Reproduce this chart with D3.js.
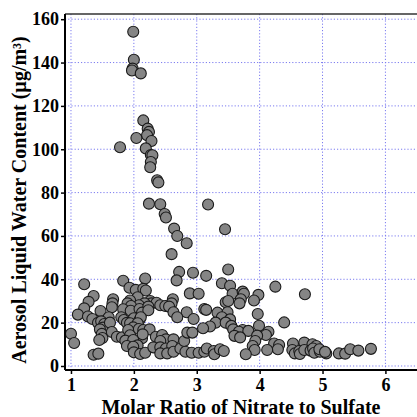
<!DOCTYPE html>
<html>
<head>
<meta charset="utf-8">
<script src="https://cdn.jsdelivr.net/npm/d3@7/dist/d3.min.js"></script>
<style>
  html, body { margin: 0; padding: 0; background: #fff; }
  svg { display: block; }
  text { font-family: "Liberation Serif", "Times New Roman", serif; font-weight: bold; fill: #000; }
</style>
</head>
<body>
<svg id="chart" width="417" height="417"></svg>
<script>
// Molar ratio of nitrate to sulfate (x) and aerosol liquid water content in µg/m³ (y)
const ratio = [
  1.99, 2.00, 1.98, 1.97, 2.11,
  2.15, 2.22, 2.24, 2.21, 2.04, 2.28,
  1.78, 2.19, 2.27, 2.295, 2.27, 2.26,
  2.37, 2.39, 2.24, 2.42, 3.18, 2.49, 2.51,
  2.64, 3.45, 2.69, 2.84, 2.60,
  3.50, 2.72, 2.94, 3.15, 2.68, 2.18, 1.83,
  1.21, 1.93, 2.03, 2.15, 2.19, 2.89, 3.03,
  1.36, 2.06, 1.28, 1.67, 1.66, 1.94, 1.90,
  2.26, 2.28, 2.36, 2.17, 2.08, 1.955, 2.62,
  2.60, 2.42, 2.50, 1.21, 1.65, 1.47, 1.83,
  1.95, 2.09, 2.23, 2.13, 2.23, 2.56, 2.63,
  2.84, 1.11, 1.27, 1.34, 1.60, 1.80,
  1.84, 2.00, 2.09, 2.11, 2.69, 2.95, 1.43,
  1.48, 1.53, 1.51, 1.62, 1.89, 1.94, 2.06,
  1.99, 1.00, 1.05, 1.46, 1.49, 1.50, 1.45,
  1.65, 1.73, 1.81, 1.91, 1.94, 2.08, 2.15,
  2.25, 2.13, 2.14, 1.865, 1.99, 2.06, 1.36,
  1.435, 1.89, 1.99, 2.00, 2.10, 2.18, 2.35, 2.45,
  2.51, 2.63, 2.42, 2.31, 2.42, 2.51, 2.61, 2.42,
  2.53, 2.63, 2.74, 2.80, 2.85, 2.93, 2.82, 2.92,
  3.03, 3.12,
  4.25, 4.72, 3.40, 3.53, 3.57, 3.73, 3.75, 3.98,
  3.91, 3.70, 3.68, 3.46, 3.50, 3.12, 3.15, 3.33,
  3.49, 3.40, 3.53, 3.97, 3.30, 4.39, 3.46, 3.55,
  3.21, 3.10, 3.99, 3.58, 3.73, 3.67, 3.82, 4.14,
  4.10, 3.60, 3.69, 3.96, 3.93, 4.23, 4.31, 3.89,
  3.92, 4.29, 4.12, 3.78, 4.53, 4.71, 4.84, 4.90,
  4.52, 4.56, 4.63, 4.64, 4.71, 4.81, 4.85, 4.87,
  4.96, 4.95, 5.06, 5.04, 5.26, 5.36, 5.44, 5.57, 5.77,
  3.16, 3.27, 3.28, 3.37, 3.43
];
const lwc = [
  154.2, 141.3, 137.2, 136.3, 135.0,
  113.3, 109.5, 108.0, 106.5, 105.2, 103.8,
  100.9, 100.4, 97.3, 97.2, 94.1, 91.7,
  85.7, 84.7, 74.9, 74.6, 74.5, 70.1, 68.5,
  63.4, 63.1, 60.0, 56.6, 51.6,
  44.5, 43.4, 43.0, 41.6, 39.5, 40.4, 39.3,
  37.7, 36.1, 35.1, 35.6, 34.8, 33.5, 33.3,
  32.3, 31.7, 29.6, 30.8, 28.9, 30.2, 28.9,
  30.0, 28.9, 29.2, 28.9, 28.0, 27.7, 30.8,
  28.9, 28.0, 27.7, 26.6, 27.1, 25.4, 26.2,
  25.5, 26.3, 27.4, 24.6, 25.7, 27.4, 24.8,
  24.8, 23.7, 22.8, 21.7, 22.5, 22.5,
  21.2, 22.0, 21.2, 22.5, 22.5, 21.7, 19.9,
  20.6, 19.4, 17.7, 20.0, 19.9, 19.7, 19.7,
  17.8, 14.9, 10.6, 16.9, 14.8, 12.9, 12.0,
  15.7, 13.5, 13.2, 16.6, 14.2, 17.1, 16.6,
  16.9, 12.8, 14.6, 11.7, 12.0, 9.5, 5.2,
  5.7, 9.2, 8.9, 6.3, 5.5, 6.1, 13.5, 14.3,
  12.3, 12.3, 11.5, 8.6, 8.6, 8.1, 9.2, 5.8,
  5.8, 6.6, 8.1, 11.5, 15.4, 15.4, 6.6, 6.1,
  6.1, 6.6,
  36.6, 33.1, 38.2, 37.0, 33.3, 34.3, 33.3, 32.8,
  30.2, 30.8, 28.9, 29.4, 30.0, 26.3, 25.9, 24.6,
  24.8, 22.5, 21.5, 24.0, 20.0, 20.1, 20.0, 18.5,
  18.2, 17.4, 18.6, 16.9, 16.6, 15.8, 16.2, 15.8,
  14.3, 13.9, 13.2, 14.0, 11.5, 10.4, 9.7, 9.2,
  7.4, 7.7, 7.4, 5.4, 10.4, 10.8, 10.0, 9.2,
  7.4, 5.8, 6.9, 5.5, 7.4, 7.1, 8.1, 6.1,
  6.6, 7.7, 5.8, 6.5, 5.8, 5.7, 7.7, 7.1, 7.9,
  8.1, 6.9, 5.4, 7.7, 6.9
];
const xTicks = [1, 2, 3, 4, 5, 6];
const yTicks = [0, 20, 40, 60, 80, 100, 120, 140, 160];
const xTitle = "Molar Ratio of Nitrate to Sulfate";
const yTitle = "Aerosol Liquid Water Content (µg/m³)";

const svg = d3.select("#chart");
const plot = { left: 65, right: 420, top: 14, bottom: 370 };

const x = d3.scaleLinear().domain([0.905, 6.55]).range([plot.left, plot.right]);
const y = d3.scaleLinear().domain([-1.85, 162.4]).range([plot.bottom, plot.top]);

// dotted grid
const grid = svg.append("g")
  .attr("stroke", "#7b7bf0")
  .attr("stroke-width", 1)
  .attr("stroke-dasharray", "1.2,2");
grid.selectAll("line.gx").data(xTicks).join("line")
  .attr("class", "gx")
  .attr("x1", d => x(d)).attr("x2", d => x(d))
  .attr("y1", plot.top).attr("y2", plot.bottom);
grid.selectAll("line.gy").data(yTicks).join("line")
  .attr("class", "gy")
  .attr("x1", plot.left).attr("x2", plot.right)
  .attr("y1", d => y(d)).attr("y2", d => y(d));

// points
const pts = ratio.map((r, i) => ({ r, w: lwc[i] }));
svg.append("g").selectAll("circle").data(pts).join("circle")
  .attr("cx", d => x(d.r))
  .attr("cy", d => y(d.w))
  .attr("r", 5.5)
  .attr("fill", "#858585")
  .attr("stroke", "#1a1a1a")
  .attr("stroke-width", 1.1);

// frame: top border
svg.append("line")
  .attr("x1", plot.left).attr("x2", plot.right)
  .attr("y1", plot.top).attr("y2", plot.top)
  .attr("stroke", "#333").attr("stroke-width", 1.6);

// axes
const xAxis = d3.axisBottom(x).tickValues(xTicks).tickSize(4).tickPadding(4).tickFormat(d3.format("d"));
const yAxis = d3.axisLeft(y).tickValues(yTicks).tickSize(4).tickPadding(2).tickFormat(d3.format("d"));

const gx = svg.append("g").attr("transform", `translate(0,${plot.bottom})`).call(xAxis);
const gy = svg.append("g").attr("transform", `translate(${plot.left},0)`).call(yAxis);

[gx, gy].forEach(g => {
  g.attr("font-family", null).attr("font-size", null);
  g.select(".domain").attr("stroke", "#000").attr("stroke-width", 2);
  g.selectAll(".tick line").attr("stroke", "#000").attr("stroke-width", 1.5);
  g.selectAll(".tick text")
    .style("font-family", '"Liberation Serif", serif')
    .style("font-weight", "bold")
    .style("font-size", "18px")
    .attr("fill", "#000");
});
gx.select(".domain").attr("d", `M${plot.left},0H${plot.right}`);
gy.select(".domain").attr("d", `M0,${plot.top}V${plot.bottom}`);

// axis titles
svg.append("text")
  .attr("x", 241).attr("y", 414)
  .attr("text-anchor", "middle")
  .style("font-size", "20px")
  .text(xTitle);

svg.append("text")
  .attr("transform", "translate(26,200) rotate(-90)")
  .attr("text-anchor", "middle")
  .style("font-size", "20px")
  .text(yTitle);
</script>
</body>
</html>
